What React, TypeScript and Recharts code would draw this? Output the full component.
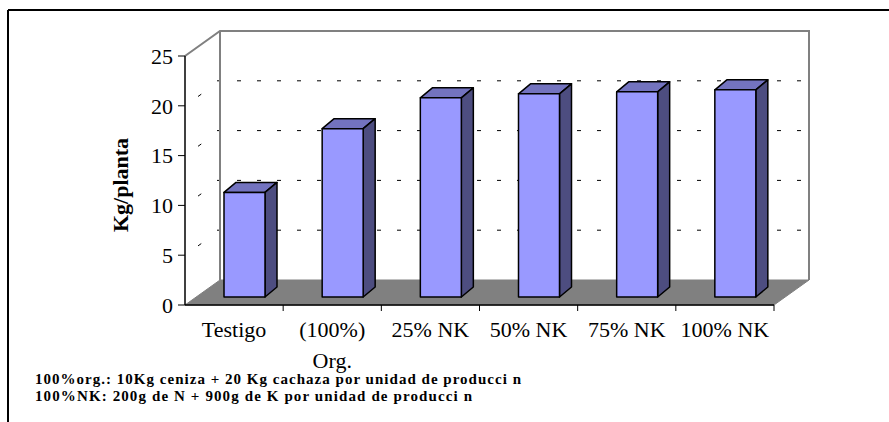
import React from "react"
import { BarChart, Bar, XAxis, YAxis, ReferenceArea } from "recharts"

const categories = ["Testigo", "(100%)\nOrg.", "25% NK", "50% NK", "75% NK", "100% NK"]
const yieldKg = [10.5, 16.9, 20.0, 20.4, 20.6, 20.8]
const yTicks = [0, 5, 10, 15, 20, 25]
const footnotes = [
  "100%org.: 10Kg ceniza + 20 Kg cachaza por unidad de producci n",
  "100%NK: 200g de N + 900g de K por unidad de producci n",
]

const data = categories.map((name, i) => ({ name, value: yieldKg[i] }))

// depth of the 3D box and of each bar
const DX = 35
const DY = 25
const BAR_DX = 10
const BAR_DY = 8
const SIDE_DX = 12
const SIDE_DY = 10
const serif = "'Liberation Serif', 'Times New Roman', serif"

function Box3D(props: any) {
  const { x, y, width, height } = props
  const yMax = yTicks[yTicks.length - 1]
  const yOf = (v: number) => y + height * (1 - v / yMax)
  const bottom = y + height
  const right = x + width
  const grid = yTicks.filter((v) => v > 0 && v < yMax)
  return (
    <g>
      {/* back wall */}
      <rect x={x + DX} y={y - DY} width={width} height={height} fill="#fff" />
      {/* floor */}
      <polygon
        points={`${x},${bottom} ${right},${bottom} ${right + DX},${bottom - DY} ${x + DX},${bottom - DY}`}
        fill="#808080"
        stroke="#808080"
      />
      {grid.map((v) => (
        <g key={v}>
          <line x1={x + DX - 3} x2={right + DX} y1={yOf(v) - DY} y2={yOf(v) - DY} stroke="#000" strokeDasharray="4 16" />
          <line x1={x} x2={x + DX} y1={yOf(v)} y2={yOf(v) - DY} stroke="#000" strokeDasharray="0 16 4 100" />
        </g>
      ))}
      <polyline
        points={`${x},${y} ${x + DX},${y - DY} ${right + DX},${y - DY} ${right + DX},${bottom - DY}`}
        fill="none"
        stroke="#808080"
        strokeWidth={2}
      />
      <line x1={x + DX} x2={x + DX} y1={y - DY} y2={bottom - DY} stroke="#808080" strokeWidth={2} />
      {categories.map((c, i) => {
        const tx = x + ((i + 1) * width) / categories.length
        return <line key={c} x1={tx} x2={tx} y1={bottom} y2={bottom + 6} stroke="#000" />
      })}
    </g>
  )
}

function Bar3D(props: any) {
  const { x, y, width, height } = props
  const fx = x + BAR_DX
  const fy = y - BAR_DY
  return (
    <g stroke="#000" strokeWidth={1.5} strokeLinejoin="round">
      <polygon
        points={`${fx},${fy} ${fx + SIDE_DX},${fy - SIDE_DY} ${fx + width + SIDE_DX},${fy - SIDE_DY} ${fx + width},${fy}`}
        fill="#7373BF"
      />
      <polygon
        points={`${fx + width},${fy} ${fx + width + SIDE_DX},${fy - SIDE_DY} ${fx + width + SIDE_DX},${fy + height - SIDE_DY} ${fx + width},${fy + height}`}
        fill="#4D4D80"
      />
      <rect x={fx} y={fy} width={width} height={height} fill="#9999FF" />
    </g>
  )
}

function CategoryTick(props: any) {
  const { x, y, payload } = props
  const lines = String(payload.value).split("\n")
  return (
    <text textAnchor="middle" fontFamily={serif} fontSize={22} fill="#000">
      {lines.map((line, i) => (
        <tspan key={i} x={x} y={y + 32 + i * 31}>
          {line}
        </tspan>
      ))}
    </text>
  )
}

export default function App() {
  return (
    <div style={{ position: "absolute", left: 0, top: 0, width: 889, height: 422, background: "#fff" }}>
      <BarChart width={889} height={422} data={data} margin={{ top: 56, right: 115, left: 125, bottom: 87 }}>
        <ReferenceArea y1={0} y2={25} shape={Box3D} ifOverflow="visible" />
        <XAxis
          dataKey="name"
          height={30}
          tickSize={0}
          tickMargin={0}
          tickLine={false}
          axisLine={{ stroke: "#000", strokeWidth: 1.5 }}
          interval={0}
          tick={CategoryTick}
        />
        <YAxis
          width={60}
          domain={[0, 25]}
          ticks={yTicks}
          interval={0}
          tickSize={7}
          tickMargin={5}
          axisLine={{ stroke: "#000", strokeWidth: 1.5 }}
          tickLine={{ stroke: "#000" }}
          tick={{ fontFamily: serif, fontSize: 22, fill: "#000" }}
        />
        <Bar dataKey="value" barSize={41} shape={Bar3D} isAnimationActive={false} />
      </BarChart>
      <svg width={889} height={422} style={{ position: "absolute", left: 0, top: 0, pointerEvents: "none" }}>
        <line x1={8} x2={889} y1={10} y2={10} stroke="#000" strokeWidth={2} />
        <line x1={8} x2={8} y1={10} y2={422} stroke="#000" strokeWidth={2} />
        <text
          transform="translate(128,185) rotate(-90)"
          textAnchor="middle"
          fontFamily={serif}
          fontWeight="bold"
          fontSize={22}
          fill="#000"
        >
          Kg/planta
        </text>
        <text x={35} y={384} fontFamily={serif} fontWeight="bold" fontSize={15} textLength={486} lengthAdjust="spacing">
          {footnotes[0]}
        </text>
        <text x={35} y={401} fontFamily={serif} fontWeight="bold" fontSize={15} textLength={437} lengthAdjust="spacing">
          {footnotes[1]}
        </text>
      </svg>
    </div>
  )
}
